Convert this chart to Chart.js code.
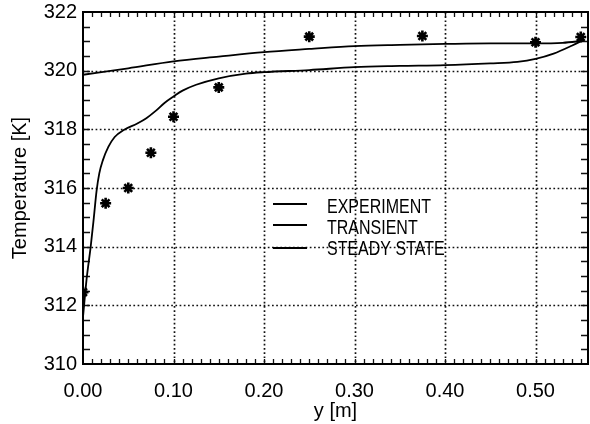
<!DOCTYPE html>
<html><head><meta charset="utf-8">
<script src="https://cdn.jsdelivr.net/npm/chart.js@4.4.1/dist/chart.umd.min.js"></script>
<style>html,body{margin:0;padding:0;background:#fff;}#wrap{width:590px;height:424px;}</style>
</head><body><div id="wrap"><canvas id="c" width="590" height="424"></canvas></div>
<script>
// ---- data ----
const legendLabels = ['EXPERIMENT', 'TRANSIENT', 'STEADY STATE'];
const expY = [0.0, 0.025, 0.05, 0.075, 0.10, 0.15, 0.25, 0.375, 0.50, 0.55];
const expT = [312.45, 315.48, 316.0, 317.2, 318.43, 319.43, 321.16, 321.18, 320.97, 321.15];
const transY = [0, 0.004, 0.0085, 0.012, 0.015, 0.018, 0.022, 0.028, 0.035, 0.045, 0.06, 0.07, 0.08, 0.09, 0.1, 0.11, 0.125, 0.15, 0.18, 0.2, 0.25, 0.3, 0.35, 0.4, 0.45, 0.48, 0.5, 0.52, 0.54, 0.553];
const transT = [311.6, 312.9, 314.0, 315.0, 315.9, 316.5, 316.95, 317.4, 317.74, 317.98, 318.2, 318.38, 318.62, 318.9, 319.12, 319.32, 319.52, 319.74, 319.9, 319.95, 320.02, 320.12, 320.16, 320.19, 320.25, 320.3, 320.4, 320.58, 320.85, 321.05];
const steadyY = [0, 0.05, 0.1, 0.15, 0.2, 0.25, 0.3, 0.35, 0.4, 0.45, 0.5, 0.53, 0.553];
const steadyT = [319.86, 320.08, 320.32, 320.48, 320.63, 320.74, 320.84, 320.88, 320.91, 320.93, 320.93, 320.95, 321.02];
const xTicks = [0.0, 0.1, 0.2, 0.3, 0.4, 0.5];
const yTicks = [310, 312, 314, 316, 318, 320, 322];
const xMinorTicks = []; for (let i = 1; i <= 55; i++) xMinorTicks.push(i / 100);
const yMinorTicks = []; for (let i = 1; i < 24; i++) yMinorTicks.push(310 + i * 0.5);

const pts = (xs, ys) => xs.map((x, i) => ({x: x, y: ys[i]}));
const FONT = 'Liberation Sans, Arial, Helvetica, sans-serif';

const framePlugin = {
  id: 'frame',
  beforeDatasetsDraw(chart) {
    const {ctx, chartArea: a, scales: {x, y}} = chart;
    ctx.save();
    ctx.strokeStyle = '#111';
    ctx.lineWidth = 1.7;
    ctx.setLineDash([1.7, 2.5]);
    xTicks.forEach(v => {
      if (v <= x.min || v >= x.max) return;
      const px = Math.round(x.getPixelForValue(v)) + 0.5;
      ctx.beginPath(); ctx.moveTo(px, a.top); ctx.lineTo(px, a.bottom); ctx.stroke();
    });
    yTicks.forEach(v => {
      if (v <= y.min || v >= y.max) return;
      const py = Math.round(y.getPixelForValue(v)) + 0.5;
      ctx.beginPath(); ctx.moveTo(a.left, py); ctx.lineTo(a.right, py); ctx.stroke();
    });
    ctx.setLineDash([]);
    ctx.lineWidth = 1.3;
    xMinorTicks.forEach(v => {
      if (v >= x.max) return;
      const px = Math.round(x.getPixelForValue(v)) + 0.5;
      ctx.beginPath();
      ctx.moveTo(px, a.bottom); ctx.lineTo(px, a.bottom - 5);
      ctx.moveTo(px, a.top); ctx.lineTo(px, a.top + 5);
      ctx.stroke();
    });
    yMinorTicks.forEach(v => {
      const py = Math.round(y.getPixelForValue(v)) + 0.5;
      ctx.beginPath();
      ctx.moveTo(a.left, py); ctx.lineTo(a.left + 7, py);
      ctx.moveTo(a.right, py); ctx.lineTo(a.right - 7, py);
      ctx.stroke();
    });
    ctx.lineWidth = 2;
    ctx.strokeStyle = '#000';
    ctx.strokeRect(a.left, a.top, a.right - a.left, a.bottom - a.top);
    ctx.restore();
  },
  afterDraw(chart) {
    const {ctx} = chart;
    ctx.save();
    ctx.strokeStyle = '#000';
    ctx.fillStyle = '#000';
    ctx.lineWidth = 1.8;
    const lineY = [204, 225, 248];
    const baseY = [213, 234, 255];
    ctx.font = '20px ' + FONT;
    ctx.textBaseline = 'alphabetic';
    legendLabels.forEach((lab, i) => {
      ctx.beginPath(); ctx.moveTo(273, lineY[i]); ctx.lineTo(307, lineY[i]); ctx.stroke();
      ctx.save();
      ctx.translate(327, baseY[i]);
      ctx.scale(0.8, 1);
      ctx.fillText(lab, 0, 0);
      ctx.restore();
    });
    ctx.restore();
  }
};

new Chart(document.getElementById('c'), {
  type: 'scatter',
  data: {
    datasets: [
      {label: legendLabels[0], data: pts(expY, expT), showLine: false, pointStyle: 'star', pointRadius: 5.5, borderColor: '#000', backgroundColor: '#000', borderWidth: 2.6},
      {label: legendLabels[1], data: pts(transY, transT), showLine: true, pointRadius: 0, borderColor: '#000', borderWidth: 1.8, cubicInterpolationMode: 'monotone'},
      {label: legendLabels[2], data: pts(steadyY, steadyT), showLine: true, pointRadius: 0, borderColor: '#000', borderWidth: 1.8, cubicInterpolationMode: 'monotone'}
    ]
  },
  options: {
    responsive: false,
    animation: false,
    devicePixelRatio: 1,
    layout: {autoPadding: false, padding: {top: 12, right: 2, left: 0, bottom: 0}},
    plugins: {legend: {display: false}, tooltip: {enabled: false}},
    scales: {
      x: {
        type: 'linear', min: 0, max: 0.558,
        afterBuildTicks: s => { s.ticks = xTicks.map(v => ({value: v})); },
        afterFit: s => { s.height = 60; s.paddingLeft = 0; s.paddingRight = 0; },
        ticks: {callback: v => Number(v).toFixed(2), color: '#000', font: {family: FONT, size: 20}, padding: 15, maxRotation: 0, autoSkip: false},
        grid: {display: false, drawTicks: false},
        border: {display: false},
        title: {display: true, text: 'y [m]', color: '#000', font: {family: FONT, size: 20}, padding: {top: 0, bottom: 1}}
      },
      y: {
        type: 'linear', min: 310, max: 322,
        afterBuildTicks: s => { s.ticks = yTicks.map(v => ({value: v})); },
        afterFit: s => { s.width = 83; s.paddingTop = 0; s.paddingBottom = 0; },
        ticks: {callback: v => String(v), color: '#000', font: {family: FONT, size: 20}, padding: 6, autoSkip: false},
        grid: {display: false, drawTicks: false},
        border: {display: false},
        title: {display: true, text: 'Temperature [K]', color: '#000', font: {family: FONT, size: 20}, padding: {top: 8, bottom: 0}}
      }
    }
  },
  plugins: [framePlugin]
});
</script>
</body></html>
